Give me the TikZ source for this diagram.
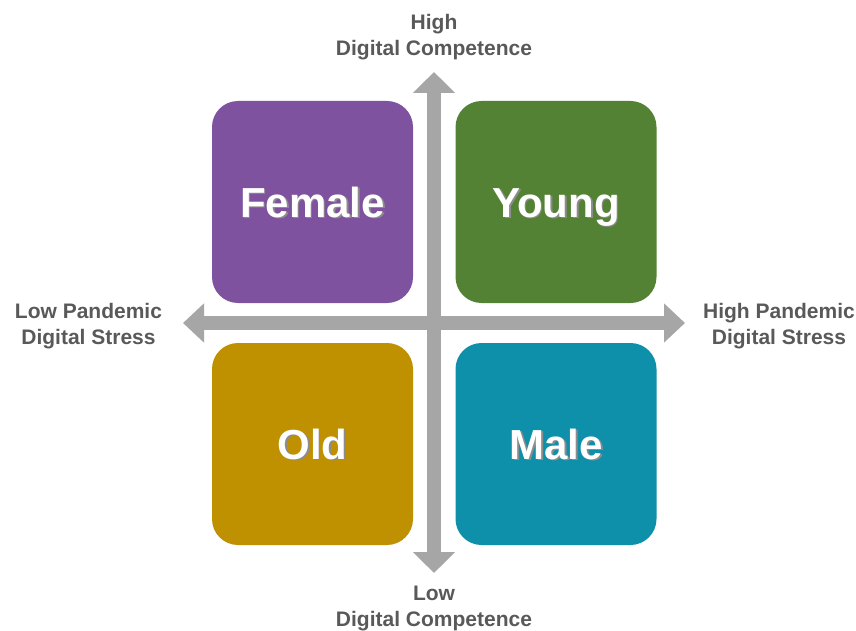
\documentclass[tikz,border=0pt]{standalone}
\usepackage{fontspec}
\setmainfont{Liberation Sans}
\usetikzlibrary{arrows.meta}
\definecolor{cpurple}{HTML}{7F52A0}
\definecolor{cgreen}{HTML}{548235}
\definecolor{cgold}{HTML}{BF9000}
\definecolor{cteal}{HTML}{0E8FAA}
\definecolor{caxis}{HTML}{A6A6A6}
\definecolor{ctext}{HTML}{595959}
\newcommand{\shadowtext}[1]{\rlap{\raisebox{-1.8pt}{\hspace{1.8pt}\textcolor{black!45}{#1}}}#1}
\tikzset{
  quad/.style={fill=#1, draw=none, rounded corners=26pt, minimum width=201pt, minimum height=202pt,
    inner sep=0pt, text=white, text height=30pt, text depth=0pt, font=\fontsize{42}{48}\selectfont\bfseries},
  axislabel/.style={text=ctext, align=center, inner sep=0pt, font=\fontsize{21}{26}\selectfont\bfseries},
  axisv/.style={draw=caxis, line width=14pt, {Triangle[length=21pt,width=41pt]}-{Triangle[length=21pt,width=41pt]}},
  axish/.style={draw=caxis, line width=14pt, {Triangle[length=21pt,width=38pt]}-{Triangle[length=21pt,width=38pt]}}
}
\begin{document}
\begin{tikzpicture}[x=1pt,y=-1pt]
\useasboundingbox (0,0) rectangle (856,631);
\coordinate (top) at (434,72);
\coordinate (bottom) at (434,573);
\coordinate (left) at (183,323);
\coordinate (right) at (685,323);
\node[quad=cpurple] (female) at (312.5,202) {\shadowtext{Female}};
\node[quad=cgreen] (young) at (556,202) {\shadowtext{Young}};
\node[quad=cgold] (old) at (312.5,444) {\shadowtext{Old}};
\node[quad=cteal] (male) at (556,444) {\shadowtext{Male}};
\draw[axisv] (top) -- (bottom);
\draw[axish] (left) -- (right);
\node[axislabel] (hdc) at (434,37) {High\\Digital Competence};
\node[axislabel] (ldc) at (434,608.5) {Low\\Digital Competence};
\node[axislabel] (lps) at (88.5,326) {Low Pandemic\\Digital Stress};
\node[axislabel] (hps) at (779,326) {High Pandemic\\Digital Stress};
\end{tikzpicture}
\end{document}
